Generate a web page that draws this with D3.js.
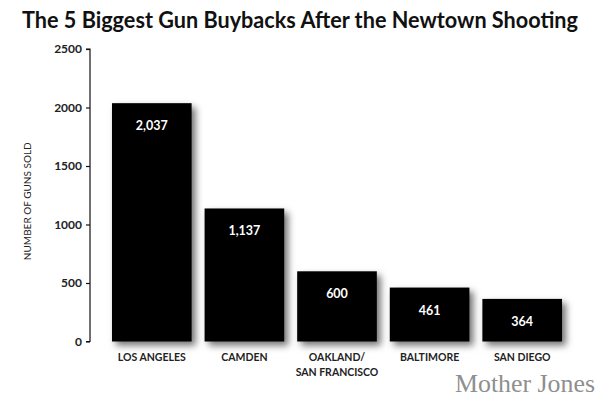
<!DOCTYPE html>
<html>
<head>
<meta charset="utf-8">
<script src="https://cdn.jsdelivr.net/npm/d3@7"></script>
<style>
  html, body { margin: 0; padding: 0; background: #fff; }
  svg { display: block; font-family: Lato, "Open Sans", sans-serif; }
</style>
</head>
<body>
<svg id="chart" width="600" height="406"></svg>
<script>
const categories = ["LOS ANGELES", "CAMDEN", "OAKLAND/\nSAN FRANCISCO", "BALTIMORE", "SAN DIEGO"];
const values = [2037, 1137, 600, 461, 364];
const valueLabels = ["2,037", "1,137", "600", "461", "364"];
const yTicks = [0, 500, 1000, 1500, 2000, 2500];
const title = "The 5 Biggest Gun Buybacks After the Newtown Shooting";
const yTitle = "NUMBER OF GUNS SOLD";
const credit = "Mother Jones";

const svg = d3.select("#chart");
const W = 600, H = 406;

const defs = svg.append("defs");
const f = defs.append("filter").attr("id", "shadow")
  .attr("x", "-20%").attr("y", "-20%").attr("width", "150%").attr("height", "150%");
f.append("feDropShadow").attr("dx", 4).attr("dy", 4).attr("stdDeviation", 3.5)
  .attr("flood-color", "#000").attr("flood-opacity", 0.55);

const x = d3.scaleBand().domain(categories).range([112 - 6.5, 562 + 6.5]).paddingInner(0.14).paddingOuter(0.07);
const y = d3.scaleLinear().domain([0, 2500]).range([341.5, 49]);

// Title
svg.append("text")
  .attr("x", W / 2).attr("y", 28)
  .attr("text-anchor", "middle")
  .attr("font-size", 22).attr("font-weight", 700)
  .attr("fill", "#111")
  .attr("textLength", 556).attr("lengthAdjust", "spacingAndGlyphs")
  .text(title);

// Y axis
const yAxis = d3.axisLeft(y).tickValues(yTicks).tickSize(4).tickPadding(4).tickFormat(d3.format("d"));
const gy = svg.append("g").attr("transform", "translate(90,0)").call(yAxis);
gy.attr("font-family", null).attr("font-size", null);
gy.select(".domain").attr("stroke", "#111").attr("stroke-width", 1.2).attr("d", `M-4,${y(2500)}H0V${y(0)}H-4`);
gy.selectAll(".tick line").attr("stroke", "#111").attr("stroke-width", 1.2);
gy.selectAll(".tick text").attr("font-size", 12).attr("font-weight", 700).attr("fill", "#222");

// Y title
svg.append("text")
  .attr("transform", `translate(31,${(y(0) + y(2500)) / 2 + 6}) rotate(-90)`)
  .attr("text-anchor", "middle")
  .attr("font-size", 10).attr("fill", "#222")
  .text(yTitle);

// Bars
const data = categories.map((c, i) => ({ c, v: values[i], l: valueLabels[i] }));
svg.append("g").selectAll("rect").data(data).join("rect")
  .attr("x", d => x(d.c)).attr("width", x.bandwidth())
  .attr("y", d => y(d.v)).attr("height", d => y(0) - y(d.v))
  .attr("fill", "#000")
  .attr("filter", "url(#shadow)");

// Value labels
svg.append("g").selectAll("text").data(data).join("text")
  .attr("x", d => x(d.c) + x.bandwidth() / 2)
  .attr("y", d => y(d.v) + 27)
  .attr("text-anchor", "middle")
  .attr("font-size", 12.5).attr("font-weight", 700)
  .attr("fill", "#fff")
  .text(d => d.l);

// Category labels
const cg = svg.append("g").selectAll("text").data(data).join("text")
  .attr("x", d => x(d.c) + x.bandwidth() / 2)
  .attr("y", 361)
  .attr("text-anchor", "middle")
  .attr("font-size", 10.5).attr("font-weight", 700)
  .attr("fill", "#222");
cg.each(function(d) {
  const lines = d.c.split("\n");
  d3.select(this).selectAll("tspan").data(lines).join("tspan")
    .attr("x", x(d.c) + x.bandwidth() / 2)
    .attr("dy", (l, i) => i === 0 ? 0 : 15)
    .text(l => l);
});

// Credit
svg.append("text")
  .attr("x", 455).attr("y", 392)
  .attr("text-anchor", "start")
  .style("font-family", "'Liberation Serif', 'DejaVu Serif', serif")
  .attr("font-size", 26)
  .attr("fill", "#8f8f8f")
  .attr("textLength", 140).attr("lengthAdjust", "spacingAndGlyphs")
  .text(credit);
</script>
</body>
</html>
